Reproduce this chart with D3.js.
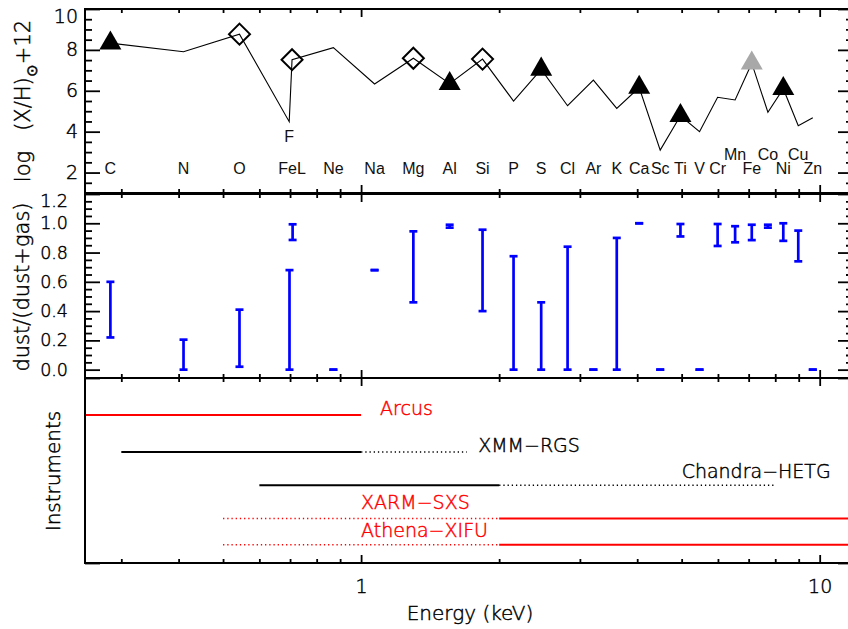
<!DOCTYPE html>
<html>
<head>
<meta charset="utf-8">
<script src="https://d3js.org/d3.v7.min.js"></script>
<style>
  body { margin: 0; background: #fff; }
  text { font-family: "DejaVu Sans", sans-serif; font-weight: 200; }
  .el { font-family: "Liberation Sans", Arial, sans-serif; font-weight: 400; }
</style>
</head>
<body>
<script>

var w = 848, h = 629;

// elements: K-edge energies (keV), solar abundance log(X/H)+12
var elements = ["C","N","O","F","FeL","Ne","Na","Mg","Al","Si","P","S","Cl","Ar","K","Ca","Sc","Ti","V","Cr","Mn","Fe","Co","Ni","Cu","Zn"];
var edgeE = [0.284,0.410,0.543,0.697,0.707,0.870,1.07,1.30,1.56,1.84,2.15,2.47,2.82,3.21,3.61,4.04,4.49,4.97,5.47,5.99,6.54,7.11,7.71,8.33,8.98,9.66];
var abund = [8.33,7.91,8.77,4.49,7.52,8.11,6.33,7.59,6.35,7.55,5.50,7.05,5.27,6.52,5.14,6.16,3.10,4.78,4.00,5.68,5.55,7.35,4.95,6.10,4.29,4.68];
// marker: t = black triangle, g = grey triangle, d = open diamond
var marker = ["t","","d","","d","","","d","t","d","","t","","","","t","","t","","","","g","","t","",""];
var raised = ["Mn","Co","Cu"];

// dust / (dust+gas) ranges
var dustE  = [0.284,0.410,0.543,0.698,0.709,0.870,1.07,1.30,1.56,1.84,2.15,2.47,2.82,3.21,3.61,4.04,4.49,4.97,5.47,5.99,6.54,7.11,7.71,8.33,8.98,9.66];
var dustLo = [0.22,0.00,0.02,0.00,0.886,0.00,0.68,0.46,0.97,0.40,0.00,0.00,0.00,0.00,0.00,1.00,0.00,0.91,0.00,0.845,0.87,0.885,0.97,0.88,0.74,0.00];
var dustHi = [0.60,0.205,0.41,0.68,0.993,0.00,0.68,0.945,0.99,0.956,0.775,0.46,0.84,0.00,0.90,1.00,0.00,0.995,0.00,0.995,0.98,0.99,0.99,1.00,0.95,0.00];

// instruments
var instNames  = ["Arcus","XMM\u2212RGS","Chandra\u2212HETG","XARM\u2212SXS","Athena\u2212XIFU"];
var instColors = ["red","black","black","red","red"];
var instSolid  = [[0.25,1],[0.3,1],[0.6,2],[2,12],[2,12]];
var instDotted = [null,[1,1.7],[2,8],[0.5,2],[0.5,2]];
var instLevel  = [0.80,0.60,0.42,0.24,0.098];
var instLabelE = [1.1,1.8,5.0,1.0,1.0];
var instLabelLevel = [0.835,0.635,0.495,0.33,0.175];

var xMajor = [1, 10];
var xMinor = [0.3,0.4,0.5,0.6,0.7,0.8,0.9,2,3,4,5,6,7,8,9];

var svg = d3.select("body").append("svg")
    .attr("width", w)
    .attr("height", h);

var x = d3.scaleLog().domain([0.25, 12]).range([85, 856]);
var left = 85, right = 856 - 3;

var yTop = d3.scaleLinear().domain([1, 10]).range([193, 9]);
var yMid = d3.scaleLinear().domain([-0.057, 1.2]).range([378, 194]);
var yBot = d3.scaleLinear().domain([0, 1]).range([563, 378]);

function frame(ys) {
	var y0 = ys.range()[1], y1 = ys.range()[0];
	// x ticks top and bottom
	[[d3.axisTop, y0], [d3.axisBottom, y1]].forEach(function(a) {
		svg.append("g").attr("transform", "translate(0," + a[1] + ")")
			.call(a[0](x).tickValues(xMinor).tickSize(-4).tickFormat(""))
			.call(function(g){ g.select(".domain").remove(); });
		svg.append("g").attr("transform", "translate(0," + a[1] + ")")
			.call(a[0](x).tickValues(xMajor).tickSize(-8).tickFormat(""))
			.call(function(g){ g.select(".domain").remove(); });
	});
	svg.append("rect")
		.attr("x", left).attr("y", y0)
		.attr("width", right - left).attr("height", y1 - y0)
		.attr("fill", "none").attr("stroke", "black").attr("stroke-width", 2);
}

function yTicks(ys, major, minor, fmt, pad, fs) {
	var gl = svg.append("g").attr("transform", "translate(" + left + ",0)")
		.call(d3.axisLeft(ys).tickValues(major).tickSize(-15).tickPadding(pad).tickFormat(fmt));
	gl.selectAll("text").attr("font-size", fs).attr("fill", "black");
	svg.append("g").attr("transform", "translate(" + left + ",0)")
		.call(d3.axisLeft(ys).tickValues(minor).tickSize(-7).tickFormat(""));
	svg.append("g").attr("transform", "translate(" + right + ",0)")
		.call(d3.axisRight(ys).tickValues(major).tickSize(-15).tickFormat(""));
	svg.append("g").attr("transform", "translate(" + right + ",0)")
		.call(d3.axisRight(ys).tickValues(minor).tickSize(-7).tickFormat(""));
	return gl;
}

// ---- top panel: abundances
var gTop = yTicks(yTop, [2,4,6,8,10], d3.range(1, 10.01, 0.5).filter(function(d){ return d % 2 != 0; }),
	d3.format("d"), 7, "19px");
gTop.selectAll(".tick").filter(function(d){ return d == 10; }).select("text").attr("y", 7);

var line = d3.line()
	.x(function(d, i){ return x(edgeE[i]); })
	.y(function(d){ return yTop(d); });
svg.append("path")
	.attr("d", line(abund))
	.attr("fill", "none").attr("stroke", "black").attr("stroke-width", 1.1);

var idx = d3.range(elements.length);
svg.selectAll("path.tri")
	.data(idx.filter(function(i){ return marker[i] == "t" || marker[i] == "g"; }))
	.enter().append("path")
	.attr("class", "tri")
	.attr("d", d3.symbol(d3.symbolTriangle, 210))
	.attr("transform", function(i){ return "translate(" + x(edgeE[i]) + "," + yTop(abund[i]) + ")"; })
	.attr("fill", function(i){ return marker[i] == "g" ? "#a8a8a8" : "black"; });

svg.selectAll("path.dia")
	.data(idx.filter(function(i){ return marker[i] == "d"; }))
	.enter().append("path")
	.attr("class", "dia")
	.attr("d", "M0,-10.5L10.5,0L0,10.5L-10.5,0Z")
	.attr("transform", function(i){ return "translate(" + x(edgeE[i]) + "," + yTop(abund[i]) + ")"; })
	.attr("fill", "none").attr("stroke", "black").attr("stroke-width", 2);

svg.selectAll("text.el")
	.data(idx)
	.enter().append("text")
	.attr("class", "el")
	.attr("x", function(i){ return x(edgeE[i]); })
	.attr("y", function(i){
		if (elements[i] == "F") return yTop(abund[i]) + 20;
		return raised.indexOf(elements[i]) >= 0 ? 160 : 173.5;
	})
	.attr("text-anchor", "middle")
	.attr("font-size", "16px")
	.attr("fill", "#111")
	.text(function(i){ return elements[i]; });

frame(yTop);

// ---- middle panel: dust fraction
var gMid = yTicks(yMid, [0,0.2,0.4,0.6,0.8,1.0,1.2],
	d3.range(0.05, 1.2, 0.05).filter(function(d){ return Math.abs(d*5 - Math.round(d*5)) > 0.01; }),
	d3.format(".1f"), 17, "17.5px");
gMid.selectAll(".tick").filter(function(d){ return d == 1.2; }).select("text").attr("y", 7);

var bars = svg.append("g").attr("stroke", "#0000ff").attr("stroke-width", 2.7);
dustE.forEach(function(e, i) {
	var cx = x(e);
	bars.append("line").attr("x1", cx).attr("x2", cx)
		.attr("y1", yMid(dustLo[i])).attr("y2", yMid(dustHi[i]));
	[dustLo[i], dustHi[i]].forEach(function(v) {
		bars.append("line").attr("x1", cx - 4).attr("x2", cx + 4)
			.attr("y1", yMid(v)).attr("y2", yMid(v));
	});
});

frame(yMid);

// ---- bottom panel: instruments
yTicks(yBot, [0, 1], [], "", 7, "17px");

instNames.forEach(function(n, i) {
	var yy = yBot(instLevel[i]);
	svg.append("line")
		.attr("x1", x(instSolid[i][0])).attr("x2", x(instSolid[i][1]))
		.attr("y1", yy).attr("y2", yy)
		.attr("stroke", instColors[i]).attr("stroke-width", 2);
	if (instDotted[i]) {
		svg.append("line")
			.attr("x1", x(instDotted[i][0])).attr("x2", x(instDotted[i][1]))
			.attr("y1", yy).attr("y2", yy)
			.attr("stroke", instColors[i]).attr("stroke-width", 1.5)
			.attr("stroke-dasharray", "1.3,2.9");
	}
	svg.append("text")
		.attr("x", x(instLabelE[i]))
		.attr("y", yBot(instLabelLevel[i]))
		.attr("dy", "0.35em")
		.attr("font-size", "19px")
		.attr("fill", instColors[i])
		.text(n);
});

frame(yBot);

// x tick labels
var gx = svg.append("g").attr("transform", "translate(0,563)")
	.call(d3.axisBottom(x).tickValues(xMajor).tickSize(0).tickPadding(17).tickFormat(d3.format("d")));
gx.select(".domain").remove();
gx.selectAll("text").attr("font-size", "19px").attr("fill", "black");

svg.selectAll(".tick line").attr("stroke-width", 1.8);

// axis titles
svg.append("text")
	.attr("x", 470).attr("y", 620)
	.attr("text-anchor", "middle").attr("font-size", "20px")
	.text("Energy (keV)");

svg.append("text")
	.attr("transform", "translate(60,471) rotate(-90)")
	.attr("text-anchor", "middle").attr("font-size", "20px")
	.text("Instruments");

svg.append("text")
	.attr("transform", "translate(28.5,287) rotate(-90)")
	.attr("text-anchor", "middle").attr("font-size", "21px")
	.text("dust/(dust+gas)");

var tt = svg.append("text")
	.attr("transform", "translate(30,101) rotate(-90)")
	.attr("text-anchor", "middle").attr("font-size", "21px");
tt.append("tspan").text("log");
tt.append("tspan").attr("dx", 20).text("(X/H)");
tt.append("tspan").attr("font-size", "15px").attr("dy", 7).text("\u2299");
tt.append("tspan").attr("dy", -7).text("+12");

// thicken the thin axis font a little
svg.selectAll("text:not(.el)").each(function() {
	var t = d3.select(this);
	t.attr("stroke", t.attr("fill") || "black").attr("stroke-width", 0.45);
});

</script>
</body>
</html>
